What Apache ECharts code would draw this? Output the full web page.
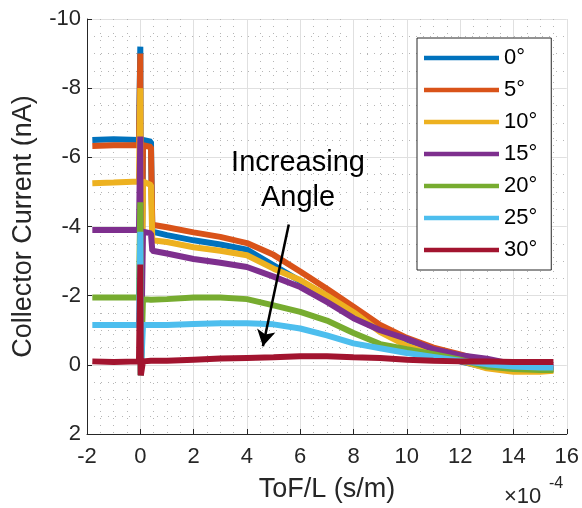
<!DOCTYPE html>
<html>
<head>
<meta charset="utf-8">
<script src="https://cdn.jsdelivr.net/npm/echarts@6/dist/echarts.min.js"></script>
<style>
  html, body { margin: 0; padding: 0; background: #fff; }
  #chart { width: 582px; height: 508px; }
</style>
</head>
<body>
<div id="chart"></div>
<script>
// ToF/L in units of 1e-4 s/m
const tof = [-1.8, -1, -0.05, 0, 0.02, 0.1, 0.4, 0.45, 1, 2, 3, 4, 5, 6, 7, 8, 9, 10, 11, 12, 13, 14, 15, 15.5]

// collector current (nA) per angle
const deg0 = [-6.5, -6.52, -6.5, -9.2, 0.3, -6.5, -6.45, -3.85, -3.75, -3.6, -3.48, -3.33, -2.88, -2.42, -2.0, -1.5, -0.98, -0.58, -0.32, -0.1, 0.08, 0.15, 0.15, 0.12]
const deg5 = [-6.33, -6.35, -6.35, -9.0, 0.3, -6.35, -6.3, -4.05, -3.98, -3.83, -3.7, -3.52, -3.18, -2.7, -2.2, -1.68, -1.15, -0.78, -0.5, -0.3, -0.08, 0.08, 0.1, 0.1]
const deg10 = [-5.25, -5.27, -5.3, -8.0, 0.3, -5.3, -5.2, -3.6, -3.55, -3.4, -3.3, -3.17, -2.78, -2.45, -2.0, -1.52, -0.95, -0.55, -0.31, -0.12, 0.1, 0.2, 0.2, 0.17]
const deg15 = [-3.9, -3.9, -3.9, -6.6, 0.3, -3.85, -3.8, -3.3, -3.22, -3.06, -2.95, -2.83, -2.55, -2.25, -1.82, -1.35, -1.0, -0.75, -0.45, -0.28, -0.18, -0.02, 0.05, 0.05]
const deg20 = [-1.95, -1.95, -1.95, -4.7, 0.3, -1.9, -1.88, -1.85, -1.9, -1.95, -1.95, -1.9, -1.72, -1.53, -1.28, -0.92, -0.6, -0.45, -0.31, -0.15, 0.05, 0.12, 0.15, 0.15]
const deg25 = [-1.15, -1.15, -1.15, -3.85, 0.3, -1.15, -1.15, -1.15, -1.15, -1.18, -1.2, -1.2, -1.17, -1.05, -0.85, -0.62, -0.48, -0.34, -0.23, -0.12, -0.02, 0.05, 0.08, 0.08]
const deg30 = [-0.1, -0.08, -0.1, -2.9, 0.3, -0.1, -0.12, -0.12, -0.12, -0.15, -0.18, -0.2, -0.22, -0.25, -0.25, -0.22, -0.2, -0.15, -0.12, -0.1, -0.1, -0.08, -0.08, -0.08]

const angleNames = ['0°', '5°', '10°', '15°', '20°', '25°', '30°']
const angleValues = [deg0, deg5, deg10, deg15, deg20, deg25, deg30]
const colors = ['#0072BD', '#D95319', '#EDB120', '#7E2F8E', '#77AC30', '#4DBEEE', '#A2142F']

// annotation arrow, data coords [tof, current]
const arrowFrom = [5.57, -4.06]
const arrowTo = [4.6, -0.54]

const font = '"Liberation Sans", Arial, Helvetica, sans-serif'
const axisColor = '#262626'

const makeAxis = (extra) => Object.assign({
  type: 'value',
  interval: 2,
  axisLine: { show: true, onZero: false, lineStyle: { color: axisColor, width: 1 } },
  axisTick: { show: true, inside: true, length: 5, lineStyle: { color: axisColor } },
  axisLabel: { color: axisColor, fontSize: 22, fontFamily: font },
  splitLine: { show: true, lineStyle: { color: '#e0e0e0', width: 1 } },
  minorTick: { show: false, splitNumber: 4 },
  minorSplitLine: { show: true, lineStyle: { color: '#b5b5b5', width: 1, type: [1, 6] } },
  nameLocation: 'middle',
  nameTextStyle: { color: axisColor, fontSize: 27, fontFamily: font }
}, extra)

const series = angleNames.map((name, i) => {
  let s = {
    name: name,
    type: 'line',
    showSymbol: false,
    color: colors[i],
    lineStyle: { width: 6, color: colors[i] },
    data: tof.map((x, j) => [x, angleValues[i][j]])
  }
  if (i === angleNames.length - 1) {
    s.markLine = {
      silent: true,
      symbol: ['none', 'arrow'],
      symbolSize: [14, 16],
      label: { show: false },
      lineStyle: { color: '#000', width: 2.5, type: 'solid' },
      data: [[{ coord: arrowFrom }, { coord: arrowTo }]]
    }
  }
  return s
})

const option = {
  animation: false,
  backgroundColor: '#fff',
  textStyle: { fontFamily: font },
  grid: { left: 87, right: 13, top: 19, bottom: 69, containLabel: false },
  xAxis: makeAxis({
    min: -2, max: 16,
    name: 'ToF/L (s/m)',
    nameGap: 42,
    axisLabel: { color: axisColor, fontSize: 22, fontFamily: font, margin: 12 }
  }),
  yAxis: makeAxis({
    min: -10, max: 2,
    inverse: true,
    name: 'Collector Current (nA)',
    nameGap: 50,
    axisLabel: { color: axisColor, fontSize: 22, fontFamily: font, margin: 6 }
  }),
  legend: {
    orient: 'vertical',
    left: 417, top: 38,
    icon: 'rect',
    itemWidth: 75, itemHeight: 4.5,
    itemGap: 10,
    padding: [9, 14, 9, 7],
    borderColor: axisColor, borderWidth: 1,
    backgroundColor: '#fff',
    textStyle: { color: '#000', fontSize: 22, fontFamily: font },
    data: angleNames
  },
  graphic: [
    {
      type: 'text', z: 100,
      style: { x: 298, y: 145, text: 'Increasing\nAngle', fill: '#000', font: '29px ' + font, textAlign: 'center', lineHeight: 35 }
    },
    {
      type: 'text', z: 100,
      style: { x: 504, y: 486, text: '×10', fill: axisColor, font: '22px ' + font }
    },
    {
      type: 'text', z: 100,
      style: { x: 549, y: 476, text: '-4', fill: axisColor, font: '16px ' + font }
    }
  ],
  series: series
}

let chartDom = echarts.init(document.getElementById('chart'))
chartDom.setOption(option)
</script>
</body>
</html>
